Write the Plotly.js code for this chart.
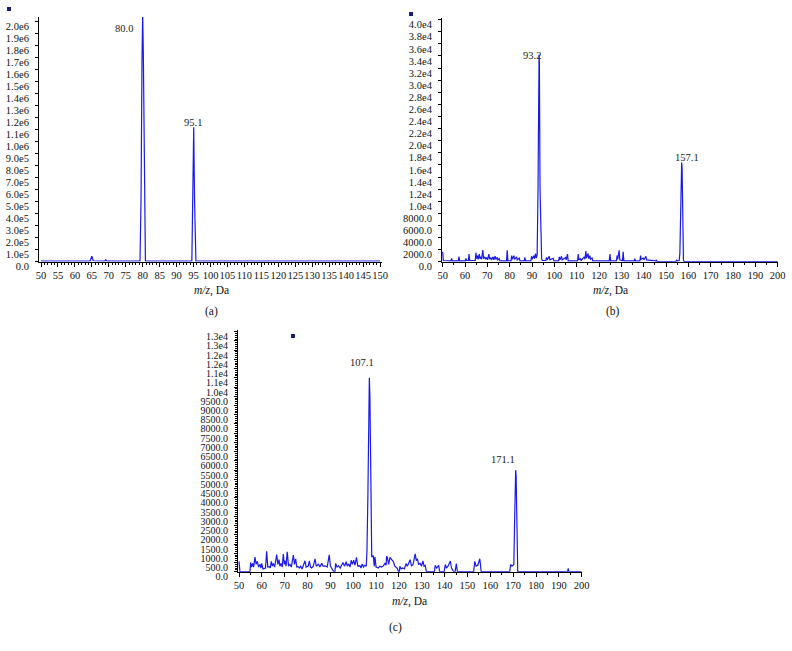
<!DOCTYPE html>
<html>
<head>
<meta charset="utf-8">
<script src="https://cdn.plot.ly/plotly-3.0.1.min.js"></script>
<style>
  html, body { margin: 0; padding: 0; background: #fff; }
  #chart { width: 792px; height: 651px; }
</style>
</head>
<body>
<div id="chart"></div>
<script>
// panel (a): m/z 50-150, peaks 80.0 and 95.1
const mzA = [50.0, 50.4, 64.5, 65.0, 65.4, 68.8, 69.1, 69.5, 79.2, 79.5, 79.8, 80.0, 80.2, 80.5, 80.8,
             94.5, 94.8, 95.05, 95.3, 95.7, 150.0];
const intA = [8000, 6000, 6000, 45000, 8000, 6000, 15000, 6000, 6000, 500000, 1700000, 2060000, 1700000, 500000, 6000,
              6000, 500000, 1120000, 500000, 6000, 6000];

// panel (b): m/z 50-200, peaks 93.2 and 157.1
const mzB = [50.0, 50.3, 53.7, 54.0, 54.3, 57.0, 57.3, 57.6, 60.1, 60.4, 60.7, 61.5, 61.8, 62.1,
             64.6, 64.9, 65.2, 65.6, 65.9, 66.4, 66.7, 67.1, 67.4, 68.0, 68.3, 68.9, 69.2, 69.7, 70.1,
             70.7, 71.0, 71.5, 71.8, 72.6, 72.9, 73.5, 73.8, 74.4, 74.7, 75.3, 75.6, 78.6, 78.9, 79.2,
             80.6, 80.9, 81.2, 81.9, 82.2, 83.1, 83.4, 84.3, 84.6, 86.5, 86.8, 87.1, 89.5, 89.8, 90.1,
             90.8, 91.1, 91.6, 91.9, 92.3, 92.7, 93.0, 93.15, 93.3, 93.6, 94.0, 94.3, 94.6,
             96.2, 96.5, 96.8, 97.7, 98.0, 99.5, 99.8, 101.9, 102.2, 102.5, 103.2, 103.5, 105.0, 105.3,
             105.9, 106.2, 110.4, 110.7, 111.0, 111.7, 112.0, 113.4, 113.7, 114.1, 114.4, 115.1, 115.4,
             115.9, 116.2, 116.9, 117.2, 124.6, 124.9, 125.2, 127.8, 128.1, 128.4, 129.0, 129.3,
             130.5, 130.8, 131.1, 135.7, 136.0, 136.3, 138.3, 138.6, 138.9, 139.8, 140.1, 141.0, 141.3,
             145.4, 145.7, 146.0, 154.4, 154.7, 155.0, 155.9, 156.2, 156.4, 156.8, 157.0, 157.2, 157.5,
             157.8, 158.1, 200.0];
const intB = [1650, 200, 150, 560, 150, 150, 830, 150, 150, 560, 200, 200, 1270, 200,
              200, 1490, 500, 1000, 400, 1270, 500, 800, 400, 1930, 500, 800, 400, 700, 300,
              1270, 400, 700, 300, 800, 300, 900, 400, 700, 300, 500, 150, 150, 1900, 150,
              150, 1000, 400, 1000, 400, 800, 300, 600, 150, 150, 700, 150, 150, 900, 400,
              1000, 500, 1350, 600, 1200, 12000, 33000, 34200, 33000, 12000, 600, 500, 200,
              200, 700, 300, 900, 300, 560, 150, 150, 800, 300, 900, 300, 700, 300,
              1270, 150, 150, 1270, 300, 500, 200, 800, 400, 1770, 600, 1350, 500,
              1000, 400, 600, 150, 150, 1270, 150, 150, 1000, 400, 1880, 300,
              150, 1650, 150, 150, 500, 150, 150, 1000, 400, 600, 300, 900, 300,
              150, 300, 0, 0, 300, 150, 200, 1390, 6000, 15500, 16400, 15500, 6000,
              300, 0, 0];

// panel (c): m/z 50-200, peaks 107.1 and 171.1
const mzC = [50.0, 50.4, 54.8, 55.1, 55.5, 56.0, 56.4, 57.0, 57.5, 58.0, 58.6, 59.2, 59.6, 59.9, 60.5,
             61.1, 61.6, 62.1, 62.6, 63.3, 63.7, 64.1, 64.6, 65.0, 65.6, 66.5, 67.0, 67.5, 67.9, 68.4,
             68.9, 69.4, 69.8, 70.1, 70.6, 71.1, 71.7, 72.3, 72.9, 73.8, 74.3, 74.8, 75.3, 75.9, 76.4,
             77.0, 77.6, 78.9, 79.4, 80.3, 80.8, 81.3, 81.8, 82.5, 83.3, 83.8, 84.8, 85.4, 86.2, 86.8,
             87.7, 88.6, 89.5, 90.0, 90.7, 91.5, 92.0, 92.3, 92.9, 93.6, 94.3, 95.5, 96.2, 96.9, 97.4,
             98.0, 98.6, 99.1, 99.6, 100.2, 100.8, 101.4, 102.0, 102.9, 103.4, 103.9, 104.5, 105.1, 105.7,
             106.0, 106.4, 106.8, 107.05, 107.3, 107.7, 108.1, 108.8, 109.2, 109.5, 110.0, 111.0, 111.6,
             112.4, 113.1, 113.9, 114.4, 114.6, 114.9, 115.5, 116.1, 116.8, 117.5, 118.2, 119.3, 119.8,
             120.2, 120.4, 121.0, 121.7, 122.4, 123.1, 123.7, 124.9, 125.5, 126.2, 127.1, 127.6, 128.1,
             128.6, 129.3, 129.9, 130.5, 131.0, 131.5, 132.0, 135.5, 135.9, 136.5, 137.4, 137.8, 139.8,
             140.3, 140.8, 141.5, 142.5, 143.0, 144.0, 144.6, 145.1, 145.6, 152.7, 153.2, 153.8, 154.5,
             155.4, 156.0, 168.5, 168.9, 169.5, 170.3, 170.6, 170.9, 171.1, 171.3, 171.6, 172.0, 193.8,
             194.1, 194.4, 200.0];
const intC = [560, 0, 0, 500, 250, 450, 250, 790, 400, 560, 250, 400, 200, 450, 150,
              180, 200, 1100, 250, 270, 200, 560, 300, 450, 250, 920, 400, 650, 300, 450,
              250, 950, 400, 600, 300, 1080, 300, 400, 250, 900, 400, 700, 250, 270, 200,
              300, 150, 590, 250, 300, 590, 250, 200, 300, 700, 300, 400, 250, 450, 300,
              320, 250, 910, 300, 180, 0, 0, 450, 250, 320, 200, 500, 300, 540, 300,
              420, 250, 620, 400, 620, 350, 780, 300, 320, 200, 420, 250, 350, 300,
              1080, 4000, 9500, 10500, 9500, 3500, 800, 870, 300, 800, 250, 200, 300,
              250, 300, 450, 350, 830, 780, 400, 780, 650, 560, 300, 180, 0,
              0, 290, 150, 200, 150, 440, 300, 650, 300, 400, 970, 600, 700,
              400, 450, 300, 580, 300, 350, 0, 0, 340, 200, 340, 0, 0,
              390, 200, 300, 580, 200, 0, 0, 440, 0, 0, 560, 300, 350,
              700, 0, 0, 390, 300, 390, 2500, 5200, 5500, 5200, 2000, 0, 0,
              180, 0, 0];

// labelled peaks
const peakMzA = [80.0, 95.1], peakIntA = [2039000, 1120000], peakTextA = ['80.0', '95.1'];
const peakMzB = [93.2, 157.1], peakIntB = [34200, 16400], peakTextB = ['93.2', '157.1'];
const peakMzC = [107.1, 171.1], peakIntC = [10500, 5500], peakTextC = ['107.1', '171.1'];

// y tick labels as printed by the instrument software
const yTickA = ['0.0', '1.0e5', '2.0e5', '3.0e5', '4.0e5', '5.0e5', '6.0e5', '7.0e5', '8.0e5', '9.0e5',
                '1.0e6', '1.1e6', '1.2e6', '1.3e6', '1.4e6', '1.5e6', '1.6e6', '1.7e6', '1.8e6', '1.9e6', '2.0e6'];
const yTickB = ['0.0', '2000.0', '4000.0', '6000.0', '8000.0', '1.0e4', '1.2e4', '1.4e4', '1.6e4', '1.8e4',
                '2.0e4', '2.2e4', '2.4e4', '2.6e4', '2.8e4', '3.0e4', '3.2e4', '3.4e4', '3.6e4', '3.8e4', '4.0e4'];
const yTickC = ['0.0', '500.0', '1000.0', '1500.0', '2000.0', '2500.0', '3000.0', '3500.0', '4000.0',
                '4500.0', '5000.0', '5500.0', '6000.0', '6500.0', '7000.0', '7500.0', '8000.0', '8500.0',
                '9000.0', '9500.0', '1.0e4', '1.1e4', '1.1e4', '1.2e4', '1.2e4', '1.3e4', '1.3e4'];

const W = 792, H = 651;
const fx = p => p / W;
const fy = p => 1 - p / H;

const SERIF = 'Liberation Serif';
const lineColor = 'rgb(25,25,235)';

function xAxis(dom, range, dtick, minorStep, anchor) {
    return {
        domain: dom, range: range, anchor: anchor,
        showline: true, linecolor: '#000', linewidth: 1,
        showgrid: false, zeroline: false,
        ticks: 'outside', ticklen: 4, tickcolor: '#000', tickwidth: 1,
        tick0: 50, dtick: dtick, tickangle: 0,
        minor: { ticks: 'outside', ticklen: 2, tickcolor: '#000', dtick: minorStep, tick0: 50, showgrid: false },
        tickfont: { family: SERIF, size: 10.5, color: '#111' },
        fixedrange: true
    };
}

function yAxis(dom, range, labels, step, minorStep, fontSize, anchor) {
    const ax = {
        domain: dom, range: range, anchor: anchor,
        showline: true, linecolor: '#000', linewidth: 1,
        showgrid: false, zeroline: false,
        ticks: 'outside', ticklen: 3, tickcolor: '#000', tickwidth: 1,
        tickmode: 'array',
        tickvals: labels.map((t, i) => i * step),
        ticktext: labels,
        ticklabelshift: 5,
        ticklabelstandoff: 4,
        tickfont: { family: SERIF, size: fontSize, color: '#111' },
        fixedrange: true
    };
    if (minorStep) {
        ax.minor = { ticks: 'outside', ticklen: 2, tickcolor: '#000', dtick: minorStep, tick0: 0, showgrid: false };
    }
    return ax;
}

const traces = [
    { x: mzA, y: intA, xaxis: 'x', yaxis: 'y', mode: 'lines', line: { color: lineColor, width: 1.2 }, hoverinfo: 'skip' },
    { x: mzB, y: intB, xaxis: 'x2', yaxis: 'y2', mode: 'lines', line: { color: lineColor, width: 1.2 }, hoverinfo: 'skip' },
    { x: mzC, y: intC, xaxis: 'x3', yaxis: 'y3', mode: 'lines', line: { color: lineColor, width: 1.2 }, hoverinfo: 'skip' }
];

const annFont = { family: SERIF, size: 10.5, color: '#222' };

function peakLabels(mz, ints, texts, xr, yr, shifts) {
    return mz.map((m, i) => ({
        x: m, y: ints[i], xref: xr, yref: yr, text: texts[i],
        showarrow: false, font: annFont,
        xanchor: 'center', yanchor: 'middle',
        xshift: shifts[i][0], yshift: shifts[i][1]
    }));
}

function paperText(text, px, py, size) {
    return {
        x: fx(px), y: fy(py), xref: 'paper', yref: 'paper', text: text,
        showarrow: false, xanchor: 'center', yanchor: 'middle',
        font: { family: SERIF, size: size, color: '#111' }
    };
}

const annotations = [].concat(
    peakLabels(peakMzA, peakIntA, peakTextA, 'x', 'y', [[-19, -12], [-1, 5]]),
    peakLabels(peakMzB, peakIntB, peakTextB, 'x2', 'y2', [[-7, -1], [5, 5]]),
    peakLabels(peakMzC, peakIntC, peakTextC, 'x3', 'y3', [[-7, 15], [-13, 11]]),
    [
        paperText('<i>m/z</i>, Da', 211, 290.5, 11.5),
        paperText('<i>m/z</i>, Da', 610, 290.5, 11.5),
        paperText('<i>m/z</i>, Da', 410, 601.5, 11.5),
        paperText('(a)', 211, 311, 11.5),
        paperText('(b)', 613, 311, 11.5),
        paperText('(c)', 395, 627, 11.5)
    ]
);

// little instrument markers in the panel corners
function marker(px, py) {
    return {
        type: 'rect', xref: 'paper', yref: 'paper',
        x0: fx(px - 2), x1: fx(px + 2), y0: fy(py + 2), y1: fy(py - 2),
        fillcolor: '#1e1e6e', line: { width: 0 }
    };
}

const layout = {
    width: W, height: H,
    margin: { l: 0, r: 0, t: 0, b: 0 },
    paper_bgcolor: '#fff', plot_bgcolor: '#fff',
    showlegend: false, hovermode: false,
    xaxis: xAxis([fx(39), fx(382)], [49.41, 150.59], 5, 1, 'y'),
    yaxis: yAxis([fy(261.7), fy(17)], [0, 2039000], yTickA, 100000, null, 10.5, 'x'),
    xaxis2: xAxis([fx(442), fx(777.7)], [49.7, 200], 10, 5, 'y2'),
    yaxis2: yAxis([fy(261.7), fy(18)], [0, 40280], yTickB, 2000, null, 10.5, 'x2'),
    xaxis3: xAxis([fx(238), fx(581.7)], [49.56, 200], 10, 5, 'y3'),
    yaxis3: yAxis([fy(571.7), fy(330)], [0, 13090], yTickC, 500, 100, 10, 'x3'),
    annotations: annotations,
    shapes: [marker(9, 9), marker(411, 14), marker(293, 336)]
};

Plotly.newPlot('chart', traces, layout, { displayModeBar: false, staticPlot: true });
</script>
</body>
</html>
